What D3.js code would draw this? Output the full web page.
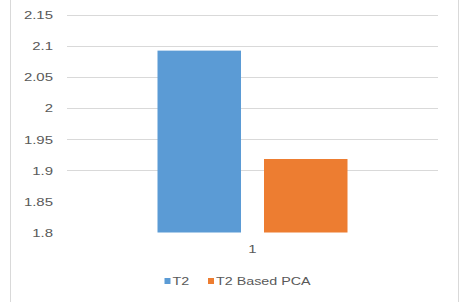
<!DOCTYPE html>
<html>
<head>
<meta charset="utf-8">
<script src="https://cdn.jsdelivr.net/npm/d3@7"></script>
<style>
  html, body { margin: 0; padding: 0; background: #fff; }
  svg { display: block; }
  text { font-family: "Liberation Sans", Arial, sans-serif; fill: #595959; }
</style>
</head>
<body>
<svg id="chart" width="464" height="302"></svg>
<script>
const categories = ["1"];
const seriesNames = ["T2", "T2 Based PCA"];
const seriesValues = [[2.092], [1.918]];
const seriesColors = ["#5b9bd5", "#ed7d31"];
const yTicks = [1.8, 1.85, 1.9, 1.95, 2, 2.05, 2.1, 2.15];
const yTickLabels = ["1.8", "1.85", "1.9", "1.95", "2", "2.05", "2.1", "2.15"];
const gridMin = 1.9;

const svg = d3.select("#chart");
const W = 464, H = 302;
const SX = 1.3;

// outer border (left and right only visible)
svg.append("line").attr("x1", 10.5).attr("x2", 10.5).attr("y1", 0).attr("y2", H)
  .attr("stroke", "#d9d9d9");
svg.append("line").attr("x1", 458.5).attr("x2", 458.5).attr("y1", 0).attr("y2", H)
  .attr("stroke", "#d9d9d9");

const plotL = 67, plotR = 438;
const y = d3.scaleLinear().domain([1.8, 2.15]).range([232.5, 14.5]);
const x0 = d3.scaleBand().domain(categories).range([plotL, plotR]).padding(0);
const groupW = 190;
const gx0 = (x0.bandwidth() - groupW) / 2;
const x1 = d3.scaleBand().domain(seriesNames).range([gx0, gx0 + groupW]).paddingInner(0.216).paddingOuter(0);

// gridlines
svg.append("g").selectAll("line")
  .data(yTicks.filter(d => d >= gridMin - 1e-9))
  .join("line")
  .attr("x1", plotL).attr("x2", plotR)
  .attr("y1", d => Math.round(y(d)) + 0.5).attr("y2", d => Math.round(y(d)) + 0.5)
  .attr("stroke", "#d9d9d9").attr("stroke-width", 1);

// y axis labels
const yAxis = d3.axisLeft(y).tickValues(yTicks)
  .tickFormat((d, i) => yTickLabels[i]).tickSize(0).tickPadding(0);
const yg = svg.append("g").attr("transform", "translate(53,0)").call(yAxis);
yg.select(".domain").remove();
yg.selectAll("text")
  .attr("font-family", "Liberation Sans, Arial, sans-serif")
  .attr("font-size", 11.5).attr("fill", "#595959")
  .attr("transform", function() { return `scale(${SX},1)`; })
  .attr("x", 0);
yg.selectAll(".tick").each(function(d) {
  d3.select(this).select("text").attr("dy", "0.35em");
});

// bars
const groups = svg.append("g").selectAll("g")
  .data(categories)
  .join("g")
  .attr("transform", d => `translate(${x0(d)},0)`);
groups.selectAll("rect")
  .data((d, ci) => seriesNames.map((s, si) => ({ s, v: seriesValues[si][ci], c: seriesColors[si] })))
  .join("rect")
  .attr("x", d => x1(d.s))
  .attr("width", x1.bandwidth())
  .attr("y", d => y(d.v))
  .attr("height", d => y(1.8) - y(d.v))
  .attr("fill", d => d.c);

// category axis label
const xAxis = d3.axisBottom(x0).tickSize(0).tickPadding(0);
const xg = svg.append("g").attr("transform", "translate(0,245)").call(xAxis);
xg.select(".domain").remove();
xg.selectAll("text")
  .attr("font-family", "Liberation Sans, Arial, sans-serif")
  .attr("font-size", 11.5).attr("fill", "#595959")
  .attr("dy", "0.71em")
  .attr("transform", `scale(${SX},1)`);
xg.selectAll(".tick").each(function(d) {
  d3.select(this).select("text").attr("transform", `scale(${SX},1)`).attr("x", 0);
});

// legend
const legendItems = [
  { name: seriesNames[0], color: seriesColors[0], x: 164.5 },
  { name: seriesNames[1], color: seriesColors[1], x: 208 }
];
const lg = svg.append("g");
legendItems.forEach(it => {
  lg.append("rect").attr("x", it.x).attr("y", 278).attr("width", 6).attr("height", 6)
    .attr("fill", it.color);
  lg.append("text")
    .attr("transform", `translate(${it.x + 8},285) scale(${SX},1)`)
    .attr("font-size", 11).attr("fill", "#595959")
    .text(it.name);
});
</script>
</body>
</html>
